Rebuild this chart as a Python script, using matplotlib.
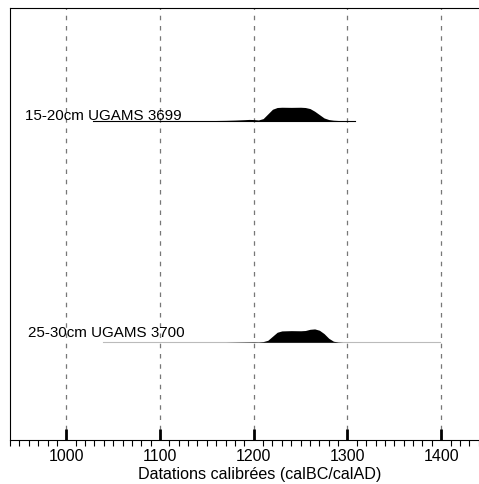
import numpy as np
import matplotlib
matplotlib.use('Agg')
import matplotlib.pyplot as plt
from matplotlib.ticker import MultipleLocator

plt.rcParams['font.family'] = ['Liberation Sans', 'DejaVu Sans']

# %% data: calibrated probability distributions (relative density)
labels = ['15-20cm UGAMS 3699', '25-30cm UGAMS 3700']

years_3699 = [1150, 1160, 1170, 1180, 1190, 1195, 1200, 1205, 1210, 1215, 1220, 1225,
              1230, 1240, 1250, 1255, 1260, 1265, 1270, 1275, 1280, 1285, 1290, 1295]
dens_3699 = [0.0, 0.01, 0.02, 0.04, 0.07, 0.09, 0.08, 0.05, 0.15, 0.5, 0.85, 0.98,
             1.0, 0.99, 1.0, 0.98, 0.9, 0.7, 0.45, 0.2, 0.08, 0.03, 0.01, 0.0]
range_3699 = [1029, 1308]

years_3700 = [1170, 1180, 1190, 1200, 1205, 1210, 1215, 1220, 1225, 1230, 1240,
              1250, 1255, 1260, 1265, 1270, 1275, 1280, 1285, 1290, 1295]
dens_3700 = [0.0, 0.01, 0.02, 0.03, 0.02, 0.05, 0.15, 0.45, 0.75, 0.85, 0.87,
             0.86, 0.88, 0.97, 1.0, 0.9, 0.65, 0.3, 0.08, 0.02, 0.0]
range_3700 = [1039, 1399]

major_years = [1000, 1100, 1200, 1300, 1400]

# %% plot
fig = plt.figure(figsize=(4.79, 4.85), dpi=100)
# axes run past the right edge of the figure (no right frame visible)
ax = fig.add_axes([10/479, (485-440.5)/485, 500/479, 431.5/485])
ax.set_xlim(940, 940 + 500/0.9375)
ax.set_ylim(0, 1)

for yr in major_years:
    ax.axvline(yr, color='#777777', lw=0.9, dashes=(3.6, 4.6), zorder=1)

scale = 0.031
base1 = 0.739
base2 = 0.2253

ax.plot(range_3699, [base1, base1], color='black', lw=0.8, zorder=2)
ax.fill_between(years_3699, base1, base1 + np.array(dens_3699)*scale, color='black', lw=0, zorder=3)

ax.plot(range_3700, [base2, base2], color='#bbbbbb', lw=0.8, zorder=2)
ax.fill_between(years_3700, base2, base2 + np.array(dens_3700)*scale, color='black', lw=0, zorder=3)

# sample labels, placed in figure pixel fractions
fig.text(25/479, 1 - 115.5/485, labels[0], fontsize=10.9, va='center', ha='left')
fig.text(28/479, 1 - 333/485, labels[1], fontsize=10.9, va='center', ha='left')

# axes style
ax.spines['right'].set_visible(False)
ax.set_yticks([])
ax.xaxis.set_major_locator(MultipleLocator(100))
ax.xaxis.set_minor_locator(MultipleLocator(10))
ax.tick_params(axis='x', which='major', direction='in', length=8, width=2, pad=6, labelsize=11.5)
ax.tick_params(axis='x', which='minor', direction='out', length=4, width=0.8)
ax.set_xlabel('Datations calibrées (calBC/calAD)', fontsize=11.6, labelpad=2)

fig.savefig('out.png', dpi=100)
